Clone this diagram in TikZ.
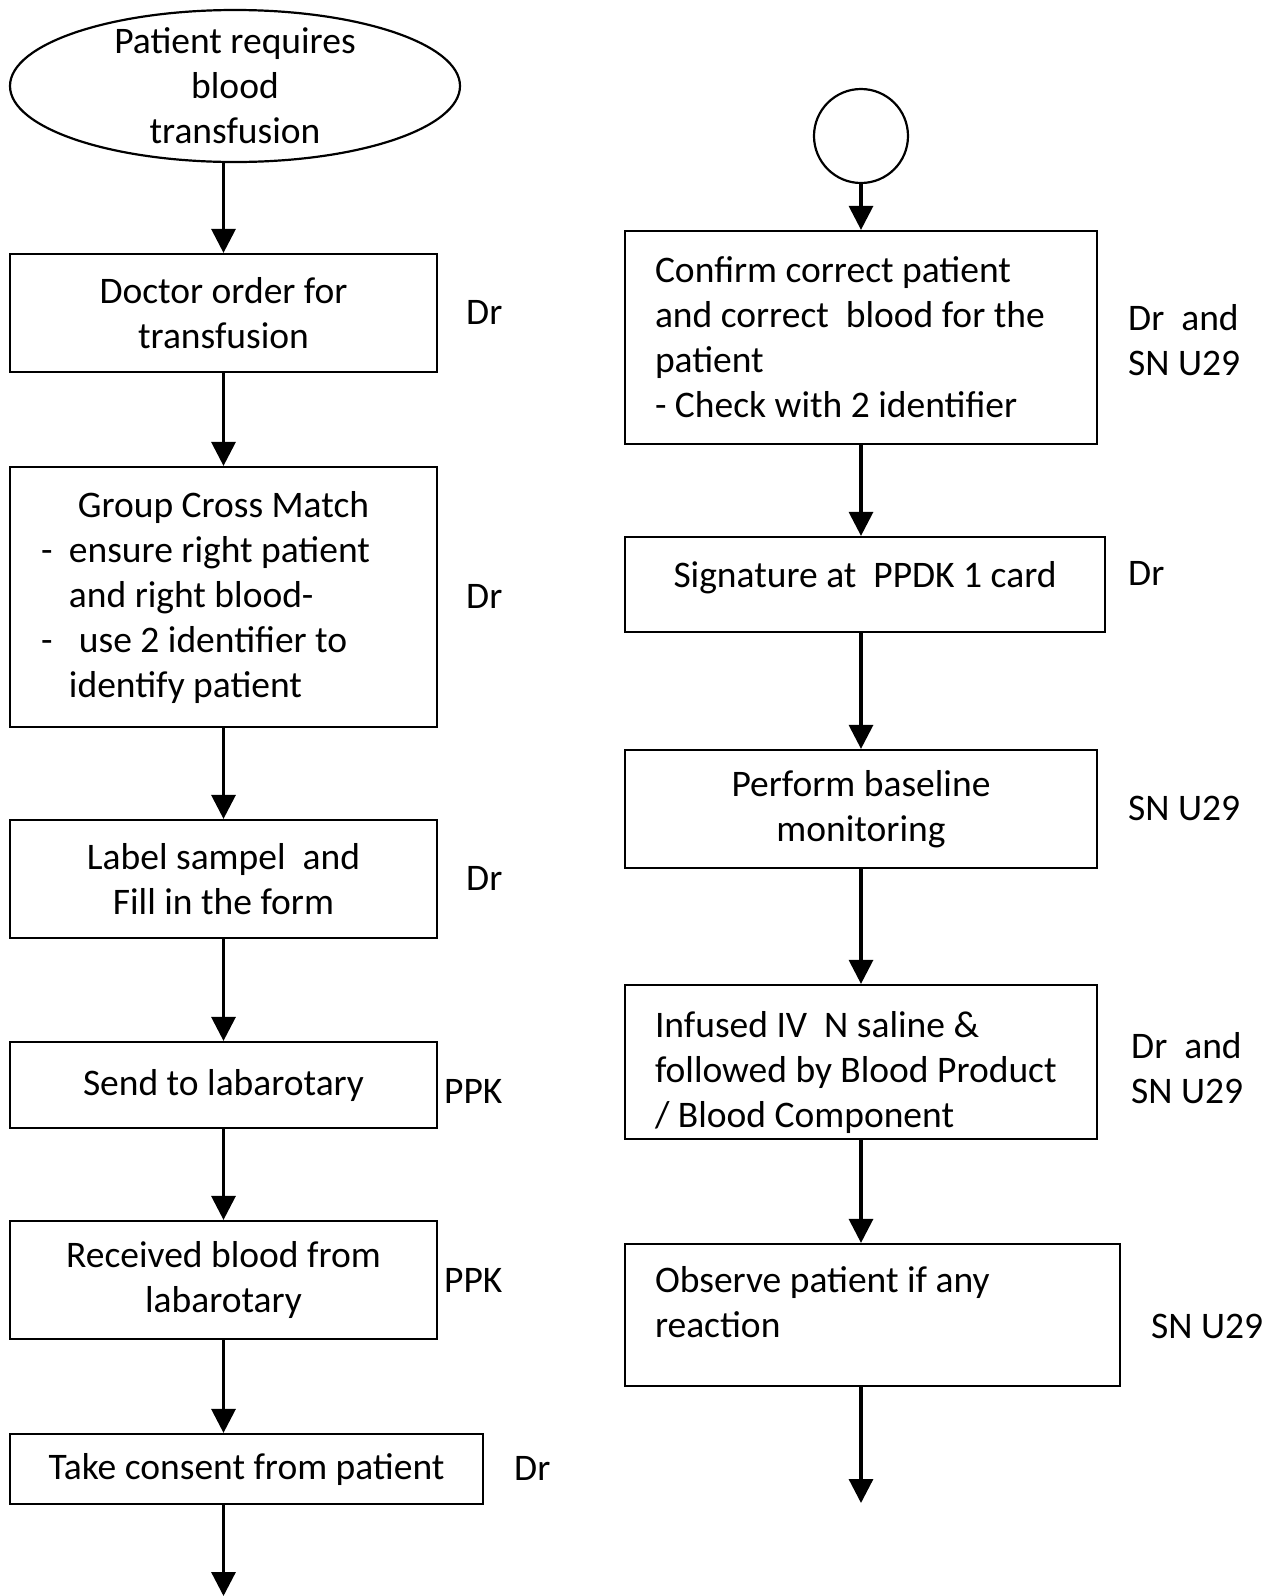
\documentclass[tikz,border=0pt]{standalone}
\usepackage{fontspec}
\setmainfont{Carlito}
\usetikzlibrary{arrows.meta,shapes.geometric}
\newcommand{\natsp}{\spaceskip=0pt\xspaceskip=0pt\relax}
\tikzset{
  every node/.style={font=\fontsize{37.5pt}{45pt}\selectfont},
  stepbox/.style={draw, line width=2.2pt, rectangle, inner sep=0pt, align=center},
  leftbox/.style={draw, line width=2.2pt, rectangle, inner ysep=0pt, inner xsep=30pt, align=left},
  role/.style={anchor=west, inner sep=0pt, align=left},
  arr/.style={line width=3.2pt, -{Triangle[width=24pt,length=24pt]}}
}
\begin{document}
\begin{tikzpicture}[x=1pt,y=-1pt]
\useasboundingbox (0,0) rectangle (1272,1596);
% left column
\node[draw, line width=2.2pt, ellipse, minimum width=450pt, minimum height=152pt, inner xsep=0pt, inner ysep=-30pt, align=center] (ell) at (235,86) {Patient requires\\blood\\transfusion};
\node[stepbox, minimum width=427pt, minimum height=118pt] (b1) at (223.5,313) {Doctor order for\\transfusion};
\node[leftbox, inner xsep=31pt, text width=365pt, minimum height=260pt] (b2) at (223.5,597) {\natsp\makebox[\linewidth][c]{Group Cross Match}\\\makebox[28pt][l]{-}ensure right patient\\\hspace*{28pt}and right blood-\\\makebox[38pt][l]{-}use 2 identifier to\\\hspace*{28pt}identify patient};
\node[stepbox, minimum width=427pt, minimum height=118pt] (b3) at (223.5,879) {Label sampel\ \ and\\Fill in the form};
\node[stepbox, minimum width=427pt, minimum height=86pt] (b4) at (223.5,1085) {Send to labarotary};
\node[stepbox, minimum width=427pt, minimum height=118pt] (b5) at (223.5,1280) {Received blood from\\labarotary};
\node[stepbox, minimum width=473pt, minimum height=70pt] (b6) at (246.5,1469) {Take consent from patient};
\coordinate (endL) at (223.5,1596);
% left roles
\node[role] (r1) at (466,312) {Dr};
\node[role] (r2) at (466,596) {Dr};
\node[role] (r3) at (466,878) {Dr};
\node[role] (r4) at (444,1091) {PPK};
\node[role] (r5) at (444,1280) {PPK};
\node[role] (r6) at (514,1468) {Dr};
% left arrows
\draw[arr] (ell.south -| b1.north) -- (b1.north);
\draw[arr] (b1.south) -- (b2.north);
\draw[arr] (b2.south) -- (b3.north);
\draw[arr] (b3.south) -- (b4.north);
\draw[arr] (b4.south) -- (b5.north);
\draw[arr] (b5.south) -- (b5.south |- b6.north);
\draw[arr] (b5.south |- b6.south) -- (endL);
% right column
\node[draw, line width=2.2pt, circle, minimum size=94pt, inner sep=0pt] (circ) at (861,136) {};
\node[leftbox, text width=412pt, minimum height=213pt] (c1) at (861,337.5) {\natsp Confirm correct patient\\and correct\ \ blood for the\\patient\\- Check with 2 identifier};
\node[stepbox, minimum width=480pt, minimum height=95pt, text depth=20pt] (c2) at (865,584.5) {Signature at\ \ PPDK 1 card};
\node[stepbox, minimum width=472pt, minimum height=118pt] (c3) at (861,809) {Perform baseline\\monitoring};
\node[leftbox, text width=412pt, minimum height=154pt] (c4) at (861,1062) {\natsp\rule{0pt}{48pt}Infused IV\ \ N saline \&\\followed by Blood Product\\/ Blood Component};
\node[leftbox, text width=435pt, minimum height=142pt] (c5) at (872.5,1315) {\natsp Observe patient if any\\reaction\rule[-26pt]{0pt}{26pt}};
\coordinate (endR) at (861,1503);
% right roles
\node[role] (s1) at (1128,340) {Dr\ \ and\\SN U29};
\node[role] (s2) at (1128,573) {Dr};
\node[role] (s3) at (1128,808) {SN U29};
\node[role] (s4) at (1131,1068) {Dr\ \ and\\SN U29};
\node[role] (s5) at (1151,1326) {SN U29};
% right arrows
\draw[arr] (circ.south) -- (c1.north);
\draw[arr] (c1.south) -- (c1.south |- c2.north);
\draw[arr] (c3.north |- c2.south) -- (c3.north);
\draw[arr] (c3.south) -- (c4.north);
\draw[arr] (c4.south) -- (c4.south |- c5.north);
\draw[arr] (c4.south |- c5.south) -- (endR);
\end{tikzpicture}
\end{document}
